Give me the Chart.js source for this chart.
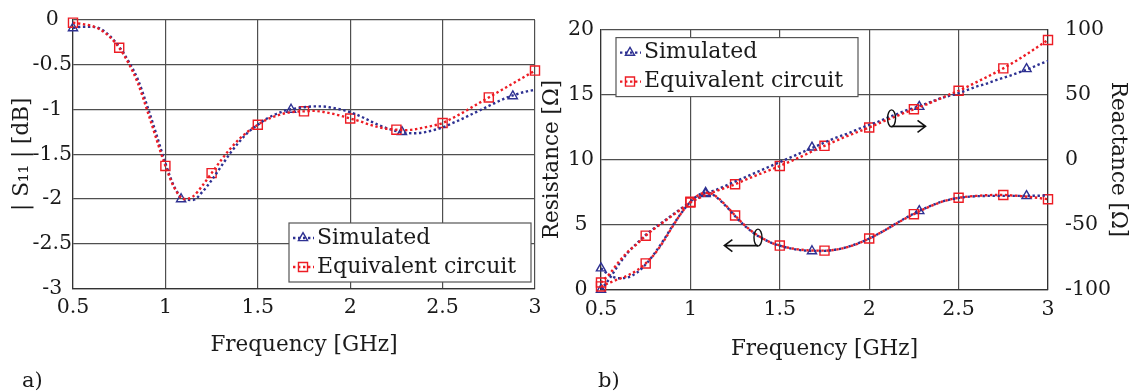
<!DOCTYPE html>
<html>
<head>
<meta charset="utf-8">
<script src="https://cdn.jsdelivr.net/npm/chart.js@4.4.1/dist/chart.umd.min.js"></script>
<style>
  html, body { margin: 0; padding: 0; background: #fff; }
  #wrap { position: relative; width: 1137px; height: 392px; overflow: hidden; }
  canvas { position: absolute; top: 0; }
  #c1 { left: 0; }
  #c2 { left: 530px; }
  .tag { position: absolute; font: 21px 'DejaVu Serif', serif; color: #1a1a1a; line-height: 24px; }
</style>
</head>
<body>
<div id="wrap">
  <canvas id="c1" width="570" height="392"></canvas>
  <canvas id="c2" width="607" height="392"></canvas>
  <div class="tag" style="left:22px; top:368px;">a)</div>
  <div class="tag" style="left:598px; top:368px;">b)</div>
</div>
<script>
// ---- data ----
const freq = [0.5, 0.55, 0.6, 0.65, 0.7, 0.75, 0.8, 0.85, 0.9, 0.95,
              1.0, 1.05, 1.1, 1.15, 1.2, 1.25, 1.3, 1.35, 1.4, 1.45,
              1.5, 1.55, 1.6, 1.65, 1.7, 1.75, 1.8, 1.85, 1.9, 1.95,
              2.0, 2.05, 2.1, 2.15, 2.2, 2.25, 2.3, 2.35, 2.4, 2.45,
              2.5, 2.55, 2.6, 2.65, 2.7, 2.75, 2.8, 2.85, 2.9, 2.95, 3.0];

// a) |S11| in dB
const s11Sim = [-0.09, -0.075, -0.075, -0.10, -0.18, -0.30, -0.46, -0.66, -0.95, -1.27,
                -1.60, -1.87, -2.00, -2.01, -1.92, -1.79, -1.64, -1.49, -1.36, -1.25,
                -1.17, -1.10, -1.05, -1.01, -0.99, -0.975, -0.965, -0.965, -0.98, -1.00,
                -1.03, -1.07, -1.12, -1.17, -1.21, -1.24, -1.26, -1.265, -1.255, -1.23,
                -1.20, -1.155, -1.11, -1.06, -1.01, -0.96, -0.91, -0.865, -0.83, -0.80, -0.78];
const s11Eq  = [-0.03, -0.045, -0.065, -0.11, -0.19, -0.31, -0.48, -0.70, -1.00, -1.32,
                -1.63, -1.88, -2.00, -1.97, -1.85, -1.71, -1.57, -1.44, -1.33, -1.24,
                -1.17, -1.11, -1.07, -1.04, -1.025, -1.02, -1.015, -1.025, -1.045, -1.07,
                -1.10, -1.13, -1.165, -1.195, -1.215, -1.225, -1.23, -1.22, -1.20, -1.18,
                -1.15, -1.10, -1.045, -0.985, -0.925, -0.865, -0.805, -0.745, -0.685, -0.625, -0.565];

// b) resistance [ohm] (left axis) and reactance [ohm] (right axis)
const resSim = [1.65, 1.10, 0.88, 0.95, 1.30, 1.95, 2.80, 3.80, 4.90, 5.90,
                6.75, 7.30, 7.45, 7.05, 6.40, 5.65, 4.95, 4.40, 3.95, 3.62,
                3.38, 3.20, 3.07, 3.00, 2.97, 2.98, 3.05, 3.18, 3.38, 3.63,
                3.93, 4.28, 4.67, 5.08, 5.48, 5.85, 6.18, 6.48, 6.73, 6.92,
                7.05, 7.13, 7.18, 7.20, 7.21, 7.21, 7.21, 7.21, 7.21, 7.22, 7.24];
const resEq  = [0.25, 0.55, 0.82, 1.10, 1.48, 2.02, 2.75, 3.72, 4.85, 5.90,
                6.75, 7.30, 7.45, 7.10, 6.45, 5.70, 5.00, 4.42, 3.97, 3.63,
                3.39, 3.22, 3.10, 3.03, 3.00, 3.00, 3.05, 3.17, 3.36, 3.62,
                3.93, 4.28, 4.66, 5.06, 5.45, 5.80, 6.15, 6.45, 6.72, 6.92,
                7.06, 7.15, 7.21, 7.25, 7.27, 7.27, 7.24, 7.19, 7.12, 7.04, 6.95];
const reaSim = [-100, -91, -80.5, -71.5, -64.5, -58, -52.5, -47.5, -42.5, -37.5,
                -33, -29, -25.5, -23, -20, -17, -14, -11, -8, -5,
                -2, 1, 4, 7, 10, 13, 16, 18.5, 21, 24,
                26.5, 29, 32, 34.5, 37.5, 39.5, 42, 44.5, 47, 49,
                51, 53.5, 56, 58, 60.5, 62.7, 65, 67.5, 70, 73, 75.7];
const reaEq  = [-94.5, -87.5, -78.5, -71, -65, -58.5, -53, -48, -43, -38,
                -33, -29.5, -26.5, -24, -21.5, -19, -16, -13.2, -10.5, -7.8,
                -5, -2, 1, 4.2, 7.5, 10.5, 13.5, 16.5, 19.2, 22,
                24.6, 27.5, 30.5, 33.2, 36, 38.6, 41.2, 44, 47, 50,
                52.8, 56, 59.4, 62.8, 66.3, 70, 74, 78.2, 82.6, 87.2, 91.8];

// marker positions: triangles every ~0.59 GHz, squares every 0.25 GHz (every 5th sample)
const simMarkFreq = [0.5, 1.085, 1.68, 2.28, 2.88];
const s11SimMark  = [-0.09, -2.00, -1.00, -1.25, -0.85];
const resSimMark  = [1.65, 7.45, 2.97, 6.05, 7.21];
const reaSimMark  = [-100, -26.5, 9.3, 40.5, 69.5];
const eqMarkIdx   = [0, 5, 10, 15, 20, 25, 30, 35, 40, 45, 50];

const BLUE = '#2e3192';
const RED = '#ed1c24';
const TXT = '#1a1a1a';
const GRID = '#4f4f4f';
const FONT = "'DejaVu Serif', serif";
const DASH = [2.4, 2.6];
const TICK_SIZE = 20.5;
const TITLE_SIZE = 21.5;

Chart.defaults.font.family = FONT;
Chart.defaults.color = TXT;

const pts = (xs, ys) => xs.map((x, i) => ({ x: x, y: ys[i] }));
const eqPts = ys => eqMarkIdx.map(i => ({ x: freq[i], y: ys[i] }));
// "1" instead of "1.0", like the original
const fmt = v => String(Math.round(v * 100) / 100);

function curve(data, color, axis) {
    return { data: data, yAxisID: axis, borderColor: color, borderWidth: 2.4, borderDash: DASH,
             pointRadius: 0, cubicInterpolationMode: 'monotone', fill: false };
}
function marks(data, color, style, r, axis) {
    return { data: data, yAxisID: axis, showLine: false, pointStyle: style, pointRadius: r,
             pointBorderColor: color, pointBackgroundColor: 'rgba(0,0,0,0)', pointBorderWidth: 1.4,
             clip: false };
}

// small marker drawer for the legend samples
function drawMark(ctx, style, x, y, r) {
    ctx.beginPath();
    if (style === 'triangle') {
        ctx.moveTo(x, y - r);
        ctx.lineTo(x + r * 0.866, y + r * 0.5);
        ctx.lineTo(x - r * 0.866, y + r * 0.5);
        ctx.closePath();
    } else {
        const s = r * Math.SQRT1_2;
        ctx.rect(x - s, y - s, 2 * s, 2 * s);
    }
    ctx.stroke();
}

// boxed legend, offset from the chart area
function boxLegend(dx, dy) {
    const rows = [
        { text: 'Simulated', color: BLUE, style: 'triangle', r: 5.3 },
        { text: 'Equivalent circuit', color: RED, style: 'rect', r: 6.4 }
    ];
    return {
        id: 'boxLegend',
        afterDraw(chart) {
            const { ctx, chartArea } = chart;
            const x0 = chartArea.left + dx, y0 = chartArea.top + dy, w = 242, h = 59;
            ctx.save();
            ctx.fillStyle = '#fff';
            ctx.fillRect(x0, y0, w, h);
            ctx.strokeStyle = '#555';
            ctx.lineWidth = 1.2;
            ctx.strokeRect(x0, y0, w, h);
            rows.forEach((row, k) => {
                const cy = y0 + 15 + k * 29;
                ctx.strokeStyle = row.color;
                ctx.lineWidth = 2.4;
                ctx.setLineDash(DASH);
                ctx.beginPath();
                ctx.moveTo(x0 + 4, cy);
                ctx.lineTo(x0 + 25, cy);
                ctx.stroke();
                ctx.setLineDash([]);
                ctx.lineWidth = 1.4;
                drawMark(ctx, row.style, x0 + 14, cy, row.r);
                ctx.fillStyle = TXT;
                ctx.font = '22px ' + FONT;
                ctx.textBaseline = 'middle';
                ctx.fillText(row.text, x0 + 28, cy);
            });
            ctx.restore();
        }
    };
}

// ellipse + arrow pointing to the axis that a curve belongs to
function pointer(chart, axisId, cx, cy, tipX, dir) {
    const { ctx } = chart;
    const xs = chart.scales.x, ys = chart.scales[axisId];
    const px = xs.getPixelForValue(cx), py = ys.getPixelForValue(cy);
    const tip = xs.getPixelForValue(tipX);
    const lineY = py + 8;
    ctx.save();
    ctx.strokeStyle = '#111';
    ctx.lineWidth = 1.4;
    ctx.beginPath();
    ctx.ellipse(px, py, 4, 8.5, 0, 0, Math.PI * 2);
    ctx.stroke();
    ctx.lineWidth = 1.6;
    ctx.beginPath();
    ctx.moveTo(px, lineY);
    ctx.lineTo(tip, lineY);
    ctx.moveTo(tip - dir * 8, lineY - 6);
    ctx.lineTo(tip, lineY);
    ctx.lineTo(tip - dir * 8, lineY + 6);
    ctx.stroke();
    ctx.restore();
}

const pointers = {
    id: 'pointers',
    afterDraw(chart) {
        pointer(chart, 'y', 1.378, 4.0, 1.19, -1);
        pointer(chart, 'y2', 2.125, 31.6, 2.315, 1);
    }
};

function xAxis(h, titlePad, tickPad) {
    return {
        type: 'linear', min: 0.5, max: 3,
        ticks: { stepSize: 0.5, padding: tickPad, font: { size: TICK_SIZE }, maxRotation: 0, callback: fmt },
        grid: { color: GRID, lineWidth: 1.2, drawTicks: false },
        border: { color: '#333', width: 1.2 },
        title: { display: true, text: 'Frequency [GHz]', font: { size: TITLE_SIZE }, padding: { bottom: titlePad } },
        afterFit: s => { s.height = h; }
    };
}

// ---- a) |S11| ----
new Chart(document.getElementById('c1'), {
    type: 'line',
    data: {
        datasets: [
            curve(pts(freq, s11Eq), RED, 'y'),
            curve(pts(freq, s11Sim), BLUE, 'y'),
            marks(eqPts(s11Eq), RED, 'rect', 6.4, 'y'),
            marks(pts(simMarkFreq, s11SimMark), BLUE, 'triangle', 5.3, 'y')
        ]
    },
    options: {
        responsive: false,
        animation: false,
        devicePixelRatio: 1,
        layout: { padding: { left: 0, right: 35, top: 20, bottom: 0 } },
        plugins: { legend: { display: false }, tooltip: { enabled: false } },
        scales: {
            x: xAxis(103.4, 34, 7),
            y: {
                min: -3, max: 0,
                ticks: { stepSize: 0.5, padding: 1, crossAlign: 'center', font: { size: TICK_SIZE }, callback: fmt },
                grid: { color: GRID, lineWidth: 1.2, drawTicks: false },
                border: { color: '#333', width: 1.2 },
                title: { display: true, text: '| S₁₁ | [dB]', font: { size: TITLE_SIZE }, padding: { top: 9.5 } },
                afterFit: s => { s.width = 73; }
            }
        }
    },
    plugins: [boxLegend(216, 203)]
});

// ---- b) resistance / reactance ----
new Chart(document.getElementById('c2'), {
    type: 'line',
    data: {
        datasets: [
            curve(pts(freq, resEq), RED, 'y'),
            curve(pts(freq, reaEq), RED, 'y2'),
            curve(pts(freq, resSim), BLUE, 'y'),
            curve(pts(freq, reaSim), BLUE, 'y2'),
            marks(eqPts(resEq), RED, 'rect', 6.4, 'y'),
            marks(eqPts(reaEq), RED, 'rect', 6.4, 'y2'),
            marks(pts(simMarkFreq, resSimMark), BLUE, 'triangle', 5.3, 'y'),
            marks(pts(simMarkFreq, reaSimMark), BLUE, 'triangle', 5.3, 'y2')
        ]
    },
    options: {
        responsive: false,
        animation: false,
        devicePixelRatio: 1,
        layout: { padding: { left: 0, right: 0, top: 21.7, bottom: 0 } },
        plugins: { legend: { display: false }, tooltip: { enabled: false } },
        scales: {
            x: xAxis(102.3, 30, 8),
            y: {
                position: 'left', min: 0, max: 20,
                ticks: { stepSize: 5, padding: 7, crossAlign: 'center', font: { size: TICK_SIZE }, callback: fmt },
                grid: { color: GRID, lineWidth: 1.2, drawTicks: false },
                border: { color: '#333', width: 1.2 },
                title: { display: true, text: 'Resistance [Ω]', font: { size: TITLE_SIZE }, padding: { top: 10 } },
                afterFit: s => { s.width = 71; }
            },
            y2: {
                position: 'right', min: -100, max: 100,
                ticks: { stepSize: 50, padding: 17, font: { size: TICK_SIZE }, callback: fmt },
                grid: { drawOnChartArea: false, drawTicks: false },
                border: { color: '#333', width: 1.2 },
                title: { display: true, text: 'Reactance [Ω]', font: { size: TITLE_SIZE }, padding: { top: 7 } },
                afterFit: s => { s.width = 89; }
            }
        }
    },
    plugins: [pointers, boxLegend(15, 8.3)]
});
</script>
</body>
</html>
